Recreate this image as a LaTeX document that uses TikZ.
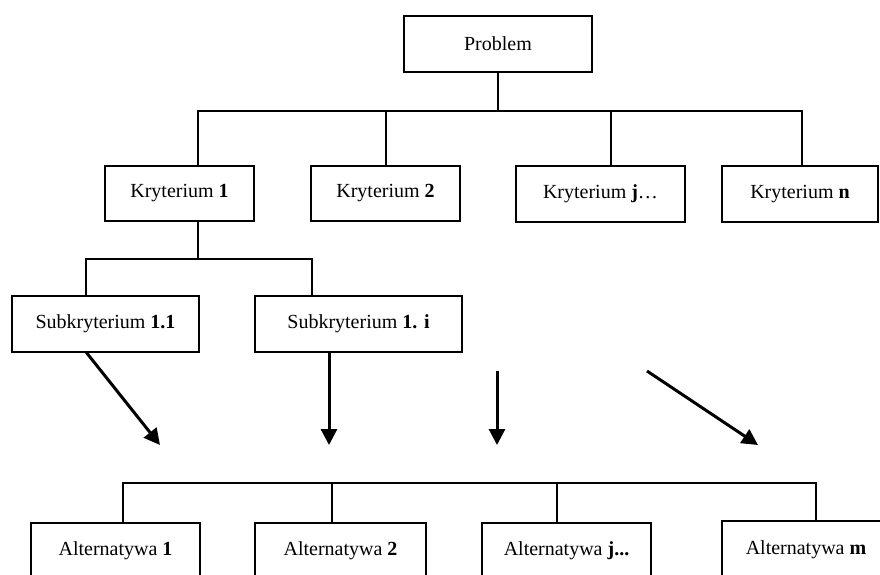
\documentclass[tikz,border=0pt]{standalone}
\usepackage{fontspec}
\setmainfont{Liberation Serif}
\usetikzlibrary{arrows.meta}
\begin{document}
\begin{tikzpicture}[x=1pt,y=-1pt,
  box/.style={draw,line width=2pt,anchor=north west,inner sep=0pt,outer sep=0pt,font=\fontsize{20}{23}\selectfont},
  link/.style={line width=2pt},
  bigarrow/.style={line width=3pt,-{Triangle[length=16pt,width=16pt]}}]
\useasboundingbox (0,0) rectangle (880,574);
\clip (0,0) rectangle (880,574);
\fill[white] (0,0) rectangle (880,574);
% top
\node[box,minimum width=188pt,minimum height=56pt] (P) at (404,16) {Problem};
\node[box,minimum width=149pt,minimum height=55pt] (K1) at (105,166) {Kryterium \textbf{1}};
\node[box,minimum width=149pt,minimum height=55pt] (K2) at (311,166) {Kryterium \textbf{2}};
\node[box,minimum width=169pt,minimum height=56pt] (Kj) at (516,166) {Kryterium \textbf{j}…};
\node[box,minimum width=156pt,minimum height=56pt] (Kn) at (722,166) {Kryterium \textbf{n}};
\node[box,minimum width=187pt,minimum height=56pt] (S1) at (12,296) {Subkryterium \textbf{1.1}};
\node[box,minimum width=207pt,minimum height=56pt] (Si) at (255,296) {Subkryterium \textbf{1. i}};
\node[box,minimum width=169pt,minimum height=56pt] (A1) at (31,523) {Alternatywa \textbf{1}};
\node[box,minimum width=171pt,minimum height=56pt] (A2) at (255,523) {Alternatywa \textbf{2}};
\node[box,minimum width=169pt,minimum height=56pt] (Aj) at (482,523) {Alternatywa \textbf{j...}};
\node[box,minimum width=168pt,minimum height=58pt] (Am) at (722,521) {Alternatywa \textbf{m}};
% bus coordinates
\coordinate (b1) at (498,111);
\coordinate (b2) at (259,259);
\coordinate (b3) at (498,483);
% problem -> criteria
\draw[link] (P.south) -- (P.south |- b1);
\draw[link] (K1.north -| 198,0) |- (b1) -| (Kn.north -| 802,0);
\draw[link] (K2.north -| 386,0) -- (386,111);
\draw[link] (Kj.north -| 611,0) -- (611,111);
% criterion 1 -> subcriteria
\draw[link] (K1.south -| 198,0) -- (198,259);
\draw[link] (S1.north -| 86,0) |- (b2) -| (Si.north -| 312,0);
% arrows
\coordinate (e1) at (160,445);
\coordinate (e2) at (329,445);
\coordinate (s3) at (497,371);
\coordinate (e3) at (497,445);
\coordinate (s4) at (647,371);
\coordinate (e4) at (758,445);
\draw[bigarrow] (S1.south -| 86,0) -- (e1);
\draw[bigarrow] (Si.south -| 329,0) -- (e2);
\draw[bigarrow] (s3) -- (e3);
\draw[bigarrow] (s4) -- (e4);
% alternatives bus
\draw[link] (A1.north -| 123,0) |- (b3) -| (Am.north -| 816,0);
\draw[link] (A2.north -| 332,0) -- (332,483);
\draw[link] (Aj.north -| 557,0) -- (557,483);
\end{tikzpicture}
\end{document}
